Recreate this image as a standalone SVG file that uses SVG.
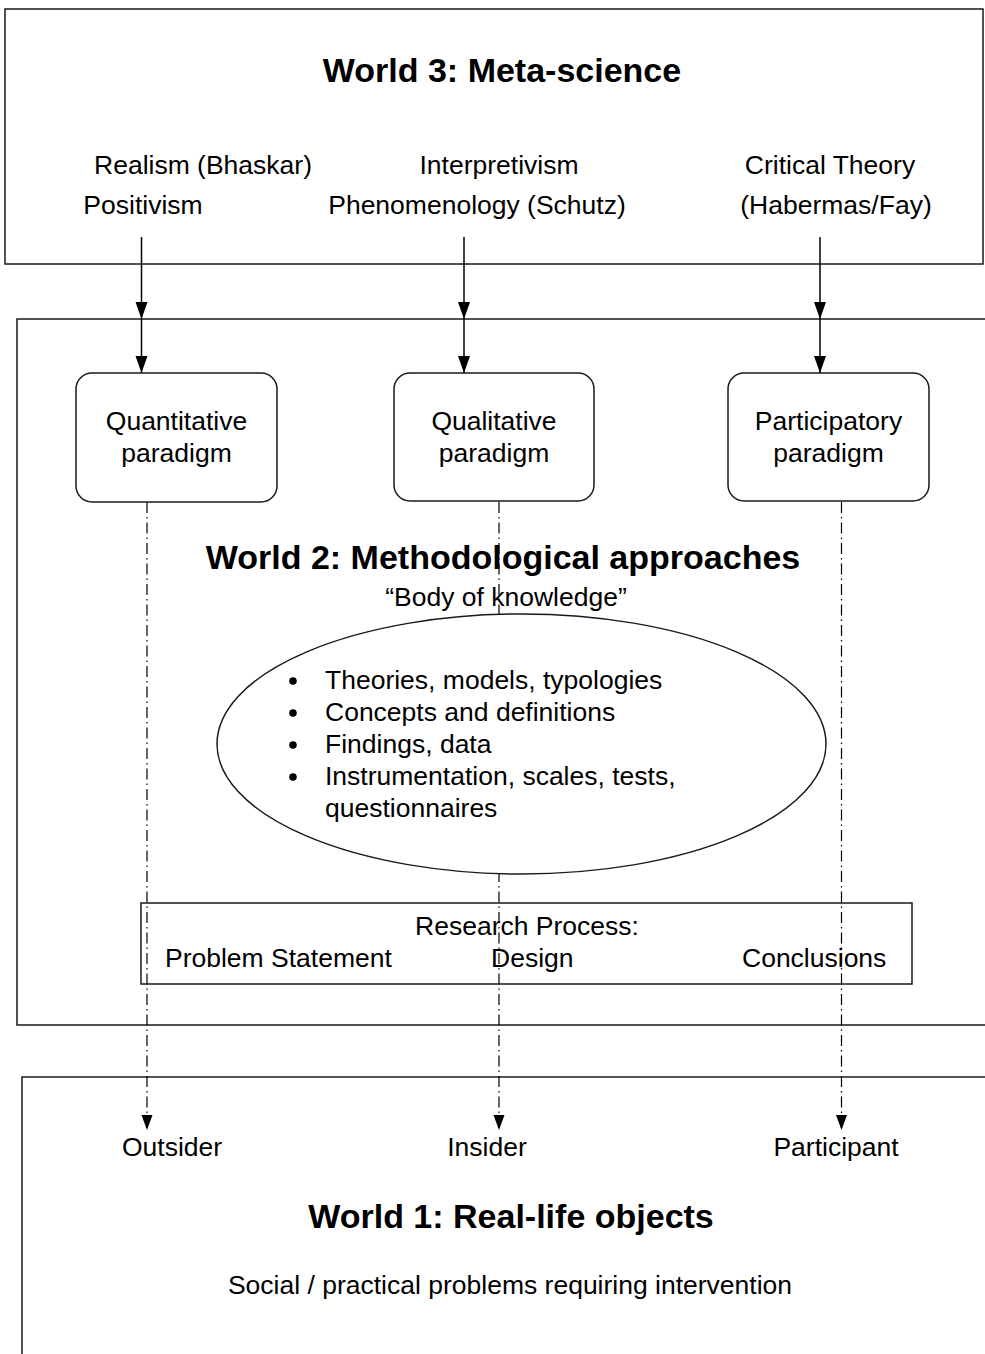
<svg xmlns="http://www.w3.org/2000/svg" width="985" height="1354" viewBox="0 0 985 1354">
  <style>
    .frame { fill: none; stroke: #1a1a1a; stroke-width: 1.5; }
    .box { fill: #fff; stroke: #1a1a1a; stroke-width: 1.5; }
    .solid { fill: none; stroke: #000; stroke-width: 1.5; }
    .dashdot { fill: none; stroke: #000; stroke-width: 1.2; stroke-dasharray: 11 4 1.5 4; }
    text { font-family: "Liberation Sans", Arial, sans-serif; fill: #000; }
    .t { font-size: 26.5px; }
    .c { text-anchor: middle; }
    .title { font-size: 34px; font-weight: bold; text-anchor: middle; }
  </style>
  <defs>
    <!-- filled triangular heads, tip at the end of the line -->
    <marker id="tip" markerUnits="userSpaceOnUse" markerWidth="18" markerHeight="13" refX="17" refY="6.5" orient="auto" viewBox="0 0 18 13">
      <path d="M0,0.5 L17,6.5 L0,12.5 Z" fill="#000"/>
    </marker>
    <marker id="tipS" markerUnits="userSpaceOnUse" markerWidth="16" markerHeight="12" refX="15" refY="6" orient="auto" viewBox="0 0 16 12">
      <path d="M0,0.5 L15,6 L0,11.5 Z" fill="#000"/>
    </marker>
  </defs>

  <!-- World 3 -->
  <g id="world3">
    <rect class="frame" x="5" y="9" width="978" height="255"/>
    <text class="title" x="502" y="82">World 3: Meta-science</text>
    <text class="t c" x="203" y="174">Realism (Bhaskar)</text>
    <text class="t c" x="143" y="214">Positivism</text>
    <text class="t c" x="499" y="174">Interpretivism</text>
    <text class="t c" x="477" y="214">Phenomenology (Schutz)</text>
    <text class="t c" x="830" y="174">Critical Theory</text>
    <text class="t c" x="836" y="214">(Habermas/Fay)</text>
  </g>

  <!-- World 2 frame (open on the right) -->
  <g id="world2">
    <path class="frame" d="M985,319 H17 V1025 H985"/>
    <text class="title" x="503" y="569">World 2: Methodological approaches</text>
    <text class="t c" x="506" y="606">“Body of knowledge”</text>
  </g>

  <!-- World 1 frame (open on the right and bottom) -->
  <g id="world1">
    <path class="frame" d="M985,1077 H22 V1354"/>
    <text class="t c" x="172" y="1156">Outsider</text>
    <text class="t c" x="487" y="1156">Insider</text>
    <text class="t c" x="836" y="1156">Participant</text>
    <text class="title" x="511" y="1228">World 1: Real-life objects</text>
    <text class="t c" x="510" y="1294">Social / practical problems requiring intervention</text>
  </g>

  <!-- connectors -->
  <g id="connectors">
    <line class="solid" x1="141.5" y1="237" x2="141.5" y2="319" marker-end="url(#tip)"/>
    <line class="solid" x1="141.5" y1="319" x2="141.5" y2="373" marker-end="url(#tip)"/>
    <line class="solid" x1="464" y1="237" x2="464" y2="319" marker-end="url(#tip)"/>
    <line class="solid" x1="464" y1="319" x2="464" y2="373" marker-end="url(#tip)"/>
    <line class="solid" x1="820" y1="237" x2="820" y2="319" marker-end="url(#tip)"/>
    <line class="solid" x1="820" y1="319" x2="820" y2="373" marker-end="url(#tip)"/>
    <line class="dashdot" x1="147" y1="502" x2="147" y2="1130" marker-end="url(#tipS)"/>
    <line class="dashdot" x1="499" y1="502" x2="499" y2="1130" marker-end="url(#tipS)"/>
    <line class="dashdot" x1="841.5" y1="502" x2="841.5" y2="1130" marker-end="url(#tipS)"/>
  </g>

  <!-- paradigms -->
  <g id="quantitative">
    <rect class="box" x="76" y="373" width="201" height="129" rx="16"/>
    <text class="t c" x="176.5" y="430">Quantitative</text>
    <text class="t c" x="176.5" y="462">paradigm</text>
  </g>
  <g id="qualitative">
    <rect class="box" x="394" y="373" width="200" height="128" rx="16"/>
    <text class="t c" x="494" y="430">Qualitative</text>
    <text class="t c" x="494" y="462">paradigm</text>
  </g>
  <g id="participatory">
    <rect class="box" x="728" y="373" width="201" height="128" rx="16"/>
    <text class="t c" x="828.5" y="430">Participatory</text>
    <text class="t c" x="828.5" y="462">paradigm</text>
  </g>

  <!-- body of knowledge -->
  <g id="knowledge">
    <ellipse class="box" cx="521.5" cy="744" rx="304.5" ry="130"/>
    <circle cx="293" cy="681" r="3.8"/>
    <circle cx="293" cy="713" r="3.8"/>
    <circle cx="293" cy="745" r="3.8"/>
    <circle cx="293" cy="777" r="3.8"/>
    <text class="t" x="325" y="689">Theories, models, typologies</text>
    <text class="t" x="325" y="721">Concepts and definitions</text>
    <text class="t" x="325" y="753">Findings, data</text>
    <text class="t" x="325" y="785">Instrumentation, scales, tests,</text>
    <text class="t" x="325" y="817">questionnaires</text>
  </g>

  <!-- research process -->
  <g id="research-process">
    <rect class="frame" x="141" y="903" width="771" height="81"/>
    <text class="t c" x="527" y="935">Research Process:</text>
    <text class="t" x="165" y="967">Problem Statement</text>
    <text class="t" x="491" y="967">Design</text>
    <text class="t" x="742" y="967">Conclusions</text>
  </g>
</svg>
